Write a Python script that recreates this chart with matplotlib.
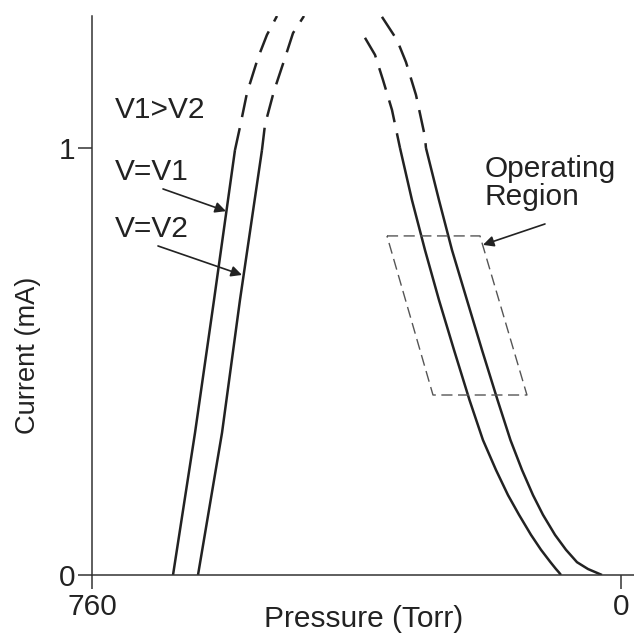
import matplotlib.pyplot as plt

plt.rcParams['font.family'] = ['Liberation Sans', 'DejaVu Sans']

# curve V=V1 (pressure in Torr, current in mA)
v1_left_p = [643.6, 612.0, 584.7, 554.6]
v1_left_i = [0.0, 0.333, 0.644, 0.995]
v1_left_dash_p = [554.6, 547.4, 537.3, 521.5, 508.6, 494.2]
v1_left_dash_i = [0.995, 1.049, 1.129, 1.211, 1.265, 1.309]
v1_right_dash_p = [367.8, 353.4, 341.9, 329.0, 317.5]
v1_right_dash_i = [1.258, 1.218, 1.159, 1.089, 1.0]
v1_right_p = [317.5, 300.3, 281.6, 261.5, 239.9, 217.7, 198.3, 179.6,
              162.3, 146.5, 129.3, 114.9, 101.3, 93.4, 89.1, 86.2]
v1_right_i = [1.0, 0.878, 0.761, 0.644, 0.527, 0.410, 0.316, 0.246,
              0.187, 0.141, 0.094, 0.059, 0.030, 0.014, 0.006, 0.0]

# curve V=V2
v2_left_p = [607.7, 573.2, 547.4, 515.8]
v2_left_i = [0.0, 0.333, 0.644, 0.995]
v2_left_dash_p = [515.8, 511.5, 498.6, 482.7, 471.2, 455.4]
v2_left_dash_i = [0.995, 1.054, 1.133, 1.211, 1.269, 1.309]
v2_right_dash_p = [343.4, 321.8, 308.9, 294.5, 281.6, 280.2]
v2_right_dash_i = [1.307, 1.253, 1.201, 1.124, 1.026, 1.0]
v2_right_p = [280.2, 261.5, 242.8, 221.3, 199.7, 177.4, 158.8, 142.2,
              126.4, 112.1, 94.8, 79.0, 63.2, 47.4, 35.9, 27.3]
v2_right_i = [1.0, 0.878, 0.761, 0.644, 0.527, 0.410, 0.316, 0.246,
              0.187, 0.141, 0.094, 0.059, 0.030, 0.014, 0.006, 0.0]

# operating region (parallelogram corners)
box_p = [336.2, 202.6, 135.1, 270.1, 336.2]
box_i = [0.794, 0.794, 0.4215, 0.4215, 0.794]

x_ticks = [760, 0]
x_ticklabels = ['760', '0']
y_ticks = [0, 1]
y_ticklabels = ['0', '1']

ink = '#222222'
fs = 21.5

fig = plt.figure(figsize=(6.34, 6.37), dpi=100)
ax = fig.add_axes([92 / 634, 1 - 575 / 637, (634 - 92) / 634, (575 - 16) / 637])
ax.set_xlim(760, -18.7)
ax.set_ylim(0, 1.309)

solid = dict(color=ink, lw=1.8, solid_capstyle='butt', solid_joinstyle='round')
dashed = dict(color=ink, lw=1.8, ls=(0, (9, 4.5)), dash_capstyle='butt')
ax.plot(v1_left_p, v1_left_i, **solid)
ax.plot(v1_left_dash_p, v1_left_dash_i, **dashed)
ax.plot(v1_right_dash_p, v1_right_dash_i, **dashed)
ax.plot(v1_right_p, v1_right_i, **solid)
ax.plot(v2_left_p, v2_left_i, **solid)
ax.plot(v2_left_dash_p, v2_left_dash_i, **dashed)
ax.plot(v2_right_dash_p, v2_right_dash_i, **dashed)
ax.plot(v2_right_p, v2_right_i, **solid)

ax.plot(box_p, box_i, color='#555555', lw=1.0, ls=(0, (8, 4)))

for s in ['top', 'right']:
    ax.spines[s].set_visible(False)
for s in ['left', 'bottom']:
    ax.spines[s].set_color('#333333')
    ax.spines[s].set_linewidth(1.1)
ax.set_xticks(x_ticks)
ax.set_xticklabels(x_ticklabels)
ax.set_yticks(y_ticks)
ax.set_yticklabels(y_ticklabels)
ax.tick_params(direction='out', length=10, width=1.1, color='#333333',
               labelsize=fs, labelcolor=ink)
ax.tick_params(axis='x', pad=3)
ax.tick_params(axis='y', pad=2)

ax.text(727.0, 1.070, 'V1>V2', fontsize=fs, color=ink, va='baseline')
ax.text(727.0, 0.925, 'V=V1', fontsize=fs, color=ink, va='baseline')
ax.text(727.0, 0.792, 'V=V2', fontsize=fs, color=ink, va='baseline')
ax.text(195.4, 0.932, 'Operating', fontsize=fs, color=ink, va='baseline')
ax.text(195.4, 0.867, 'Region', fontsize=fs, color=ink, va='baseline')

arrow = dict(arrowstyle='-|>', mutation_scale=16, lw=1.2, color=ink,
             shrinkA=0, shrinkB=0)
ax.annotate('', xy=(567.5, 0.852), xytext=(658.0, 0.904), arrowprops=arrow)
ax.annotate('', xy=(544.5, 0.7026), xytext=(665.2, 0.7705), arrowprops=arrow)
ax.annotate('', xy=(198.3, 0.773), xytext=(109.2, 0.822), arrowprops=arrow)

fig.text(364 / 634, 1 - 627 / 637, 'Pressure (Torr)', fontsize=fs, color=ink,
         ha='center', va='baseline')
fig.text(28.5 / 634, 1 - 355 / 637, 'Current (mA)', fontsize=19.6, color=ink,
         ha='center', va='center', rotation=90)

fig.savefig('out.png', dpi=100)
